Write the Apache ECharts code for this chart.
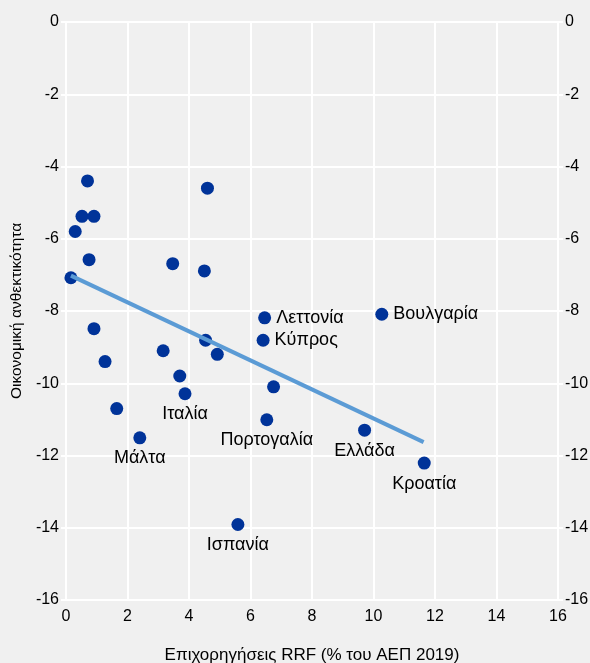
<!DOCTYPE html>
<html>
<head>
<meta charset="utf-8">
<script src="https://cdn.jsdelivr.net/npm/echarts@6/dist/echarts.min.js"></script>
<style>
  html, body { margin: 0; padding: 0; background: #f0f0f0; }
  #chart { width: 590px; height: 663px; }
</style>
</head>
<body>
<div id="chart"></div>
<script>
// RRF grants (% of 2019 GDP) vs economic resilience
const rrf = [0.7, 4.6, 0.52, 0.91, 0.3, 0.75, 3.47, 4.5, 0.16, 0.91, 6.46, 10.27, 1.27,
  3.16, 4.54, 4.92, 6.41, 3.7, 3.87, 6.75, 1.65, 6.53, 2.4, 5.59, 9.71, 11.65]
const resilience = [-4.4, -4.6, -5.38, -5.38, -5.8, -6.58, -6.69, -6.89, -7.08, -8.49, -8.19, -8.09, -9.4,
  -9.1, -8.81, -9.2, -8.81, -9.8, -10.29, -10.1, -10.7, -11.01, -11.51, -13.91, -11.3, -12.21]
const countries = ['', '', '', '', '', '', '', '', '', '', 'Λεττονία', 'Βουλγαρία', '',
  '', '', '', 'Κύπρος', '', 'Ιταλία', '', '', 'Πορτογαλία', 'Μάλτα', 'Ισπανία', 'Ελλάδα', 'Κροατία']
const labelSide = ['', '', '', '', '', '', '', '', '', '', 'right', 'right', '',
  '', '', '', 'right', '', 'bottom', '', '', 'bottom', 'bottom', 'bottom', 'bottom', 'bottom']

// trend line end points
const trendX = [0.16, 11.63]
const trendY = [-7.02, -11.63]

const font = 'Liberation Sans, Arial, sans-serif'

const points = rrf.map((x, i) => {
  const p = { value: [x, resilience[i]] }
  if (countries[i]) {
    p.label = {
      show: true,
      formatter: countries[i],
      position: labelSide[i],
      distance: 5,
    }
  }
  return p
})

const yAxisBase = {
  type: 'value',
  min: -16,
  max: 0,
  interval: 2,
  axisLine: { show: true, lineStyle: { color: '#ffffff', width: 2 } },
  axisTick: { show: true, length: 5, lineStyle: { color: '#ffffff', width: 2 } },
  axisLabel: { color: '#000', fontSize: 16, fontFamily: font, margin: 7 },
  splitLine: { show: true, lineStyle: { color: '#ffffff', width: 2 } },
}

const option = {
  backgroundColor: '#f0f0f0',
  animation: false,
  grid: { left: 66, right: 32, top: 22, bottom: 63, outerBoundsMode: 'none', containLabel: false },
  xAxis: {
    type: 'value',
    min: 0,
    max: 16,
    interval: 2,
    name: 'Επιχορηγήσεις RRF (% του ΑΕΠ 2019)',
    nameLocation: 'middle',
    nameGap: 47,
    nameTextStyle: { color: '#000', fontSize: 17, fontFamily: font },
    axisLine: { show: true, lineStyle: { color: '#ffffff', width: 2 } },
    axisTick: { show: true, length: 5, lineStyle: { color: '#ffffff', width: 2 } },
    axisLabel: { color: '#000', fontSize: 16, fontFamily: font, margin: 9 },
    splitLine: { show: true, lineStyle: { color: '#ffffff', width: 2 } },
  },
  yAxis: [
    Object.assign({}, yAxisBase, {
      position: 'left',
      name: 'Οικονομική ανθεκτικότητα',
      nameLocation: 'middle',
      nameGap: 30,
      nameRotate: 90,
      nameTextStyle: { color: '#000', fontSize: 15.5, fontFamily: font },
    }),
    Object.assign({}, yAxisBase, {
      position: 'right',
      splitLine: { show: false },
    }),
  ],
  series: [
    {
      type: 'scatter',
      symbolSize: 13,
      itemStyle: { color: '#003399', opacity: 1 },
      label: { color: '#000', fontSize: 18, fontFamily: font },
      data: points,
      z: 2,
    },
    {
      type: 'line',
      symbol: 'none',
      lineStyle: { color: '#5b9bd5', width: 4 },
      data: trendX.map((x, i) => [x, trendY[i]]),
      z: 3,
    },
  ],
}

const myChart = echarts.init(document.getElementById('chart'))
myChart.setOption(option)
</script>
</body>
</html>
